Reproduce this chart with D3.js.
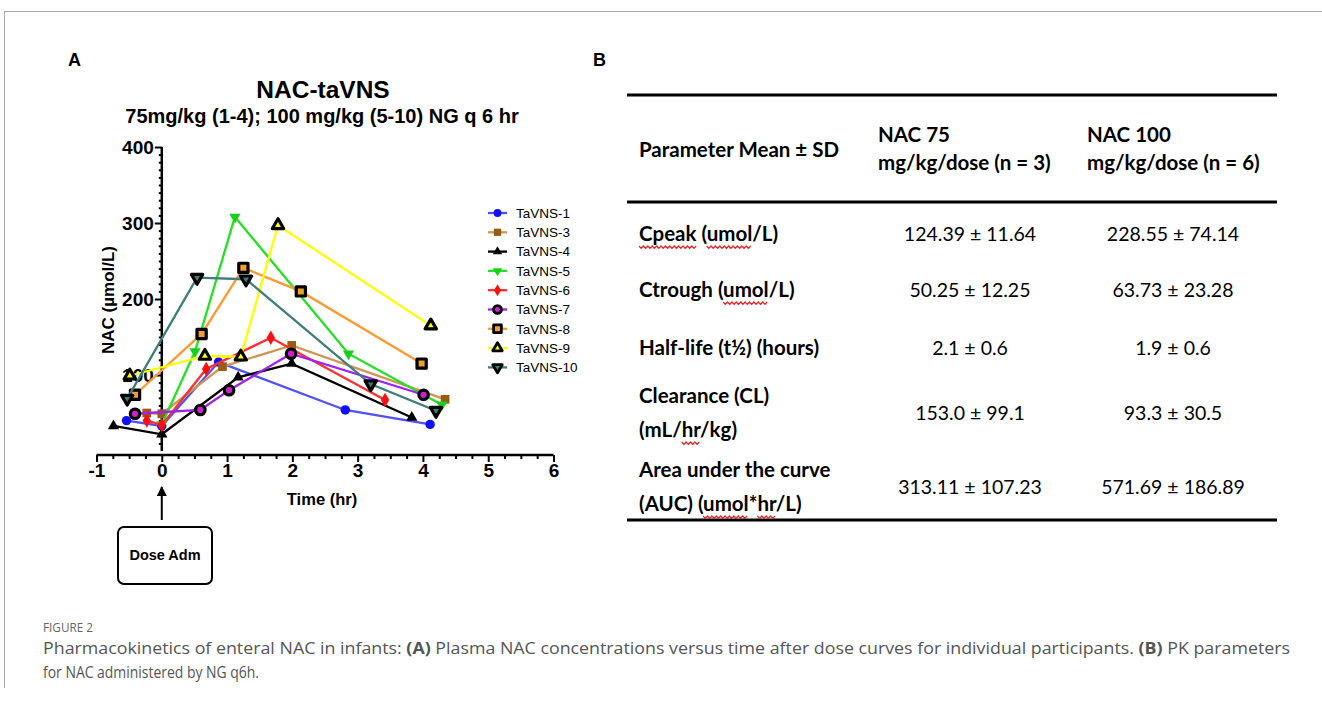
<!DOCTYPE html>
<html>
<head>
<meta charset="utf-8">
<script src="https://cdn.jsdelivr.net/npm/d3@7"></script>
<style>
  body { margin: 0; background: #fff; }
  svg { display: block; }
</style>
</head>
<body>
<svg id="fig" width="1322" height="702"></svg>
<script>
// --- panel A data ---
const seriesNames = ["TaVNS-1", "TaVNS-3", "TaVNS-4", "TaVNS-5", "TaVNS-6", "TaVNS-7", "TaVNS-8", "TaVNS-9", "TaVNS-10"];
const seriesTimes = [
  [-0.54, 0, 0.87, 2.81, 4.11],
  [-0.23, 0, 0.93, 1.99, 4.34],
  [-0.74, 0, 1.17, 1.99, 3.83],
  [0, 0.51, 1.12, 2.86, 4.29],
  [-0.23, 0, 0.68, 1.67, 3.42],
  [-0.41, 0.59, 1.03, 1.98, 4.01],
  [-0.41, 0.61, 1.25, 2.13, 3.98],
  [-0.49, 0.66, 1.21, 1.78, 4.12],
  [-0.53, 0.54, 1.29, 3.2, 4.2]
];
const seriesValues = [
  [40, 33, 117, 54, 35],
  [50, 49, 111, 139, 68],
  [33, 22, 97, 115, 44],
  [35, 131, 308, 128, 61],
  [40, 34, 108, 149, 67],
  [49, 54, 80, 128, 74],
  [74, 154, 241, 210, 115],
  [99, 125, 124, 297, 165],
  [69, 228, 226, 88, 53]
];
const xTicks = [-1, 0, 1, 2, 3, 4, 5, 6];
const yTicks = [100, 200, 300, 400];

// --- panel B table ---
const tableHeader = [["Parameter Mean ± SD"], ["NAC 75", "mg/kg/dose (n = 3)"], ["NAC 100", "mg/kg/dose (n = 6)"]];
const rowLabels = [["Cpeak (umol/L)"], ["Ctrough (umol/L)"], ["Half-life (t½) (hours)"], ["Clearance (CL)", "(mL/hr/kg)"], ["Area under the curve", "(AUC) (umol*hr/L)"]];
const nac75 = ["124.39 ± 11.64", "50.25 ± 12.25", "2.1 ± 0.6", "153.0 ± 99.1", "313.11 ± 107.23"];
const nac100 = ["228.55 ± 74.14", "63.73 ± 23.28", "1.9 ± 0.6", "93.3 ± 30.5", "571.69 ± 186.89"];
// words flagged by the spell checker: [row, line, word]
const squiggles = [[0, 0, "Cpeak"], [0, 0, "umol"], [1, 0, "umol"], [3, 1, "hr"], [4, 1, "umol"], [4, 1, "hr"]];

const lineColors = ["#5050ff", "#cf9555", "#000000", "#22e022", "#ff3030", "#a020f0", "#ff9a30", "#ffff00", "#3e7d7a"];
const markerFill = ["#1010ff", "#9a5a12", "#000000", "#18d018", "#ff1010", "#d020d0", "#f0a030", "#ffff00", "#3e7d7a"];
const markerStroke = [null, null, null, null, null, "#000", "#000", "#000", "#000"];
const markerType = [d3.symbolCircle, d3.symbolSquare, d3.symbolTriangle, "down", d3.symbolDiamond, d3.symbolCircle, d3.symbolSquare, d3.symbolTriangle, "down"];
const markerSize = [70, 75, 55, 55, 60, 70, 85, 55, 55];

const svg = d3.select("#fig");
const chartFont = "'Liberation Sans', Arial, sans-serif";
const tableFont = "Lato, 'Noto Sans', sans-serif";

// frame lines of the page
svg.append("line").attr("x1", 4).attr("x2", 1322).attr("y1", 11.5).attr("y2", 11.5).attr("stroke", "#aaa").attr("stroke-width", 1);
svg.append("line").attr("x1", 4.5).attr("x2", 4.5).attr("y1", 11).attr("y2", 688).attr("stroke", "#aaa").attr("stroke-width", 1);

svg.append("text").attr("x", 68).attr("y", 66).text("A")
  .attr("font-family", chartFont).attr("font-weight", "bold").attr("font-size", 18);
svg.append("text").attr("x", 593).attr("y", 66).text("B")
  .attr("font-family", chartFont).attr("font-weight", "bold").attr("font-size", 18);

// ---------- panel A ----------
const x = d3.scaleLinear().domain([-1, 6]).range([96.5, 553.5]);
const y = d3.scaleLinear().domain([0, 400]).range([451, 147]);
const axisY = 455;

svg.append("text").attr("x", 323).attr("y", 98).attr("text-anchor", "middle")
  .attr("font-family", chartFont).attr("font-weight", "bold").attr("font-size", 24.5).text("NAC-taVNS");
svg.append("text").attr("x", 322).attr("y", 123).attr("text-anchor", "middle")
  .attr("font-family", chartFont).attr("font-weight", "bold").attr("font-size", 20)
  .text("75mg/kg (1-4); 100 mg/kg (5-10) NG q 6 hr");

// y axis
const gy = svg.append("g").attr("transform", `translate(${x(0)},0)`);
gy.call(d3.axisLeft(y).tickValues(d3.range(10, 401, 10).filter(v => v % 100 !== 0)).tickSize(3).tickFormat(""));
gy.call(g => g.append("g").call(d3.axisLeft(y).tickValues(yTicks).tickSize(7).tickFormat(d => String(d))));
gy.selectAll("path.domain").remove();
gy.append("line").attr("y1", y(400)).attr("y2", y(0)).attr("stroke", "#000").attr("stroke-width", 2.5);
gy.selectAll(".tick line").attr("stroke", "#000").attr("stroke-width", 2);
gy.selectAll(".tick text").attr("font-family", chartFont).attr("font-weight", "bold")
  .attr("font-size", 19).attr("fill", "#000").attr("x", -8).attr("dy", "0.35em");

// x axis
const gx = svg.append("g").attr("transform", `translate(0,${axisY})`);
gx.call(d3.axisBottom(x).tickValues(d3.range(-1, 6.01, 0.25).filter(t => Math.abs(t - Math.round(t)) > 0.01)).tickSize(4).tickFormat(""));
gx.call(g => g.append("g").call(d3.axisBottom(x).tickValues(xTicks).tickSize(7).tickFormat(d => String(d))));
gx.selectAll("path.domain").remove();
gx.append("line").attr("x1", x(-1)).attr("x2", x(6)).attr("stroke", "#000").attr("stroke-width", 2.5);
gx.selectAll(".tick line").attr("stroke", "#000").attr("stroke-width", 2);
gx.selectAll(".tick text").attr("font-family", chartFont).attr("font-weight", "bold")
  .attr("font-size", 19).attr("fill", "#000").attr("y", 9).attr("dy", "0.71em");

svg.append("text").attr("x", 322).attr("y", 505).attr("text-anchor", "middle")
  .attr("font-family", chartFont).attr("font-weight", "bold").attr("font-size", 16.5).text("Time (hr)");
svg.append("text").attr("transform", `translate(114,300) rotate(-90)`).attr("text-anchor", "middle")
  .attr("font-family", chartFont).attr("font-weight", "bold").attr("font-size", 17).text("NAC (µmol/L)");

function symbolOf(i) { return markerType[i] === "down" ? d3.symbolTriangle : markerType[i]; }
function markerRot(i) { return markerType[i] === "down" ? " rotate(180)" : ""; }

const line = d3.line().x(d => x(d[0])).y(d => y(d[1]));

seriesNames.forEach((name, i) => {
  const pts = seriesTimes[i].map((t, k) => [t, seriesValues[i][k]]);
  const g = svg.append("g");
  g.append("path").datum(pts).attr("d", line).attr("fill", "none")
    .attr("stroke", lineColors[i]).attr("stroke-width", 2.3);
  g.selectAll("path.m").data(pts).enter().append("path").attr("class", "m")
    .attr("d", d3.symbol(symbolOf(i), markerSize[i])())
    .attr("transform", d => `translate(${x(d[0])},${y(d[1])})${markerRot(i)}`)
    .attr("fill", markerFill[i])
    .attr("stroke", markerStroke[i] || "none")
    .attr("stroke-width", markerStroke[i] ? 3.2 : 0)
    .attr("stroke-linejoin", "round");
});

// legend
const leg = svg.append("g");
seriesNames.forEach((name, i) => {
  const ly = 213 + i * 19.3;
  leg.append("line").attr("x1", 488).attr("x2", 507).attr("y1", ly).attr("y2", ly)
    .attr("stroke", lineColors[i]).attr("stroke-width", 2.3);
  leg.append("path").attr("d", d3.symbol(symbolOf(i), markerSize[i] * 0.7)())
    .attr("transform", `translate(497.5,${ly})${markerRot(i)}`)
    .attr("fill", markerFill[i]).attr("stroke", markerStroke[i] || "none")
    .attr("stroke-width", markerStroke[i] ? 2.8 : 0).attr("stroke-linejoin", "round");
  leg.append("text").attr("x", 516).attr("y", ly).attr("dy", "0.36em")
    .attr("font-family", chartFont).attr("font-size", 13.5).text(name);
});

// dose administration arrow and box
svg.append("defs").append("marker").attr("id", "ah").attr("viewBox", "0 0 10 10")
  .attr("refX", 9).attr("refY", 5).attr("markerWidth", 5).attr("markerHeight", 5)
  .attr("markerUnits", "strokeWidth").attr("orient", "auto")
  .append("path").attr("d", "M0,0 L10,5 L0,10 z").attr("fill", "#000");
svg.append("line").attr("x1", x(0)).attr("x2", x(0)).attr("y1", 520).attr("y2", 487)
  .attr("stroke", "#000").attr("stroke-width", 2).attr("marker-end", "url(#ah)");
svg.append("rect").attr("x", 118).attr("y", 527).attr("width", 94).attr("height", 57).attr("rx", 6)
  .attr("fill", "#fff").attr("stroke", "#000").attr("stroke-width", 2);
svg.append("text").attr("x", 165).attr("y", 555).attr("dy", "0.35em").attr("text-anchor", "middle")
  .attr("font-family", chartFont).attr("font-weight", "bold").attr("font-size", 14.5).text("Dose Adm");

// ---------- panel B ----------
const tb = svg.append("g");
[95, 202, 520].forEach(ly => {
  tb.append("line").attr("x1", 627).attr("x2", 1277).attr("y1", ly).attr("y2", ly)
    .attr("stroke", "#000").attr("stroke-width", 3.2);
});
const boldSize = 20.5, plainSize = 19.5;
const colX = [639, 878, 1087];
tableHeader.forEach((cell, c) => {
  const y0 = cell.length === 1 ? 157 : 142;
  cell.forEach((s, k) => {
    tb.append("text").attr("x", colX[c]).attr("y", y0 + k * 28).text(s)
      .attr("font-family", tableFont).attr("font-weight", "bold").attr("font-size", boldSize);
  });
});
const rowY = [241, 297, 355, 420, 494];
const labelNodes = [];
rowLabels.forEach((cell, r) => {
  const y0 = cell.length === 1 ? rowY[r] : rowY[r] - 17;
  labelNodes[r] = cell.map((s, k) => tb.append("text").attr("x", 639).attr("y", y0 + k * 34).text(s)
    .attr("font-family", tableFont).attr("font-weight", "bold").attr("font-size", boldSize));
  tb.append("text").attr("x", 970).attr("y", rowY[r]).attr("text-anchor", "middle").text(nac75[r])
    .attr("font-family", tableFont).attr("font-size", plainSize);
  tb.append("text").attr("x", 1173).attr("y", rowY[r]).attr("text-anchor", "middle").text(nac100[r])
    .attr("font-family", tableFont).attr("font-size", plainSize);
});
squiggles.forEach(([r, k, word]) => {
  const t = labelNodes[r][k];
  const node = t.node();
  const idx = t.text().indexOf(word);
  const x0 = node.getStartPositionOfChar(idx).x;
  const x1 = node.getEndPositionOfChar(idx + word.length - 1).x;
  const base = +t.attr("y") + 5;
  const pts = [];
  for (let px = x0, j = 0; px <= x1 + 0.5; px += 2.2, j++) pts.push([px, base + (j % 2 ? 2.4 : 0)]);
  tb.append("path").attr("d", d3.line()(pts)).attr("fill", "none")
    .attr("stroke", "#e82020").attr("stroke-width", 1.2);
});

// ---------- caption ----------
const capFont = "'Open Sans', 'Noto Sans', sans-serif";
svg.append("text").attr("x", 43).attr("y", 632).text("FIGURE 2")
  .attr("font-family", capFont).attr("font-size", 12.5).attr("fill", "#666")
  .attr("textLength", 50).attr("lengthAdjust", "spacingAndGlyphs");
const cap1 = svg.append("text").attr("x", 43).attr("y", 654).attr("font-family", capFont)
  .attr("font-size", 16.5).attr("fill", "#555")
  .attr("textLength", 1247).attr("lengthAdjust", "spacingAndGlyphs");
cap1.append("tspan").text("Pharmacokinetics of enteral NAC in infants: ");
cap1.append("tspan").attr("font-weight", "bold").text("(A)");
cap1.append("tspan").text(" Plasma NAC concentrations versus time after dose curves for individual participants. ");
cap1.append("tspan").attr("font-weight", "bold").text("(B)");
cap1.append("tspan").text(" PK parameters");
svg.append("text").attr("x", 43).attr("y", 678).attr("font-family", capFont)
  .attr("font-size", 16.5).attr("fill", "#555")
  .attr("textLength", 216).attr("lengthAdjust", "spacingAndGlyphs")
  .text("for NAC administered by NG q6h.");
</script>
</body>
</html>
